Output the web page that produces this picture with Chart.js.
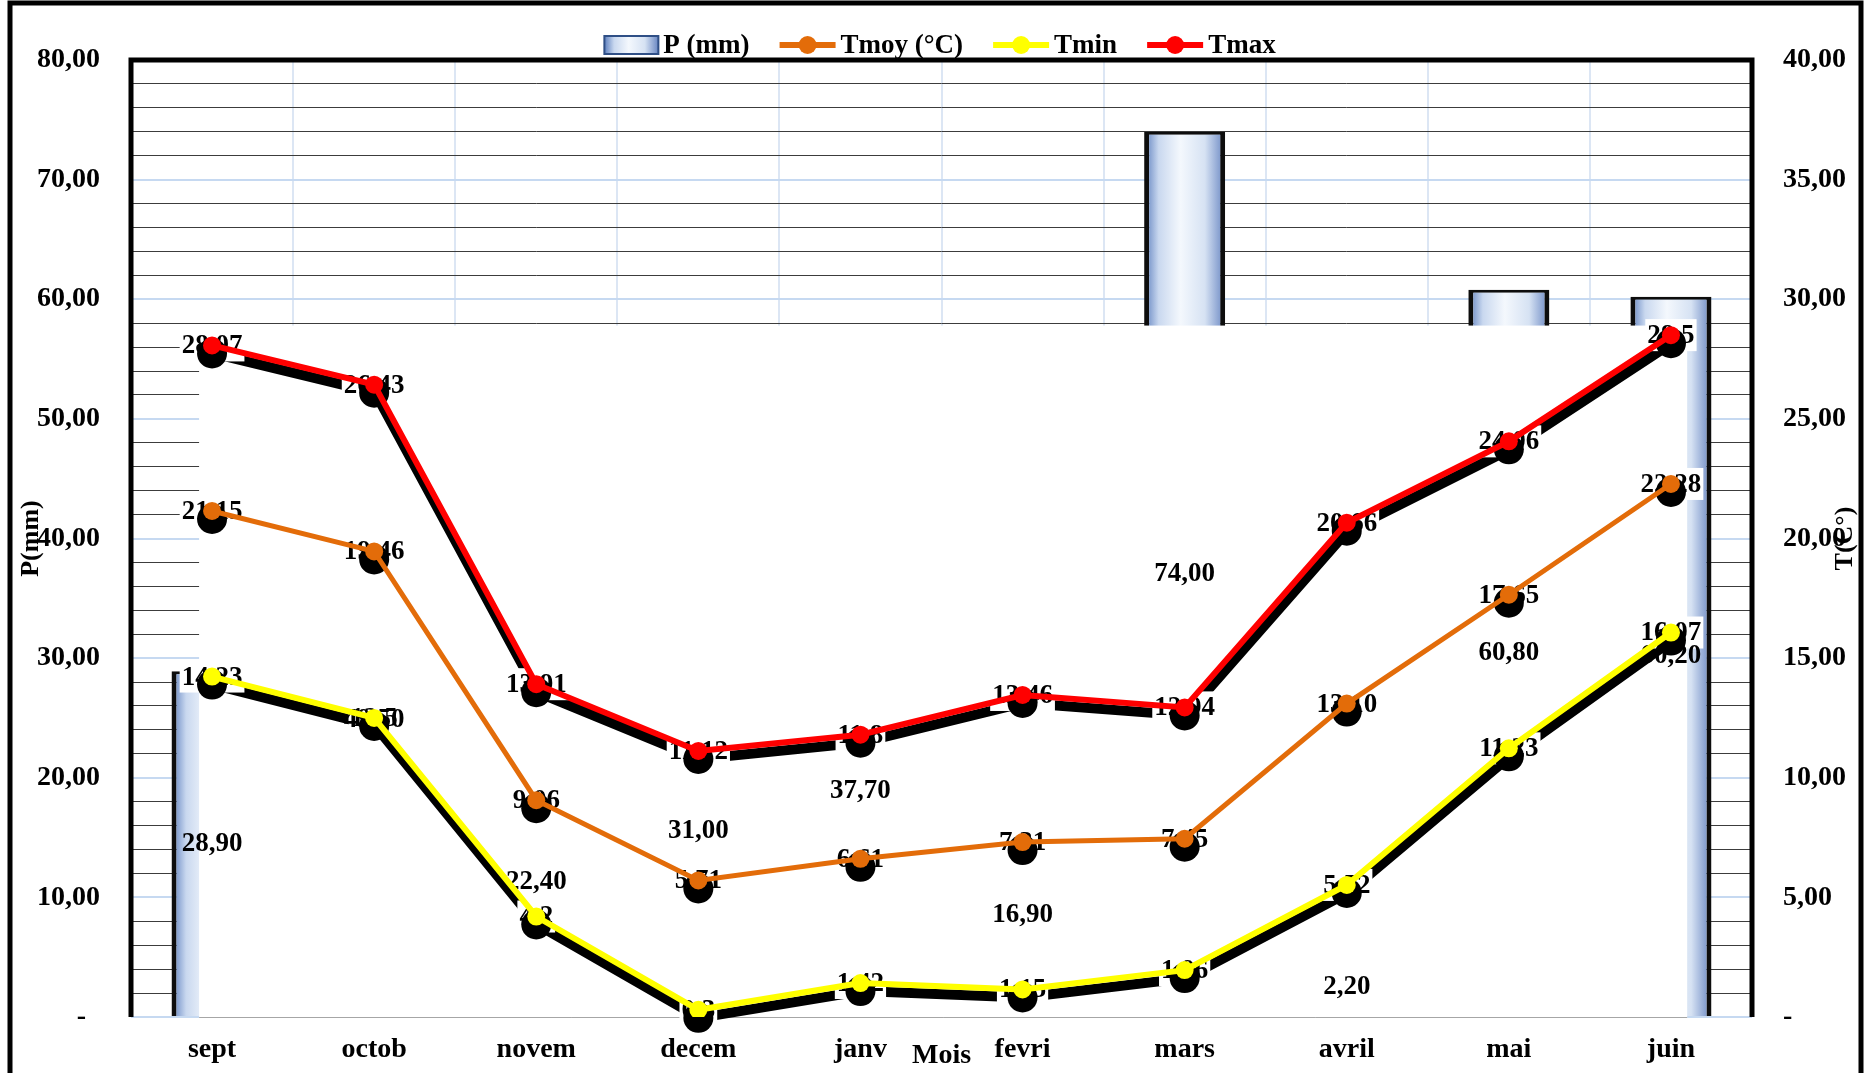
<!DOCTYPE html>
<html lang="fr">
<head>
<meta charset="utf-8">
<title>Diagramme P / T</title>
<script src="https://cdn.jsdelivr.net/npm/chart.js@4.4.1/dist/chart.umd.min.js"></script>
<style>
  html, body { margin: 0; padding: 0; background: #fff; }
  #wrap { width: 1865px; height: 1073px; position: relative; }
</style>
</head>
<body>
<div id="wrap"><canvas id="myChart"></canvas></div>
<script>
// DATA
const months = ['sept', 'octob', 'novem', 'decem', 'janv', 'fevri', 'mars', 'avril', 'mai', 'juin'];
const precip = [28.90, 49.50, 22.40, 31.00, 37.70, 16.90, 74.00, 2.20, 60.80, 60.20];
const tmoy = [21.15, 19.46, 9.06, 5.71, 6.61, 7.31, 7.45, 13.10, 17.65, 22.28];
const tmin = [14.23, 12.5, 4.2, 0.3, 1.42, 1.15, 1.96, 5.52, 11.23, 16.07];
const tmax = [28.07, 26.43, 13.91, 11.12, 11.8, 13.46, 12.94, 20.66, 24.06, 28.5];
const pTickLabels = ['-  ', '10,00', '20,00', '30,00', '40,00', '50,00', '60,00', '70,00', '80,00'];
const tTickLabels = ['-', '5,00', '10,00', '15,00', '20,00', '25,00', '30,00', '35,00', '40,00'];

// STYLE
const serif = "'Liberation Serif', 'Times New Roman', serif";
const bold = size => ({ family: serif, size: size, weight: 'bold' });
const coverTop = 57.8; // the white panel hides the plot below this P value

// bar fill: bevelled light blue
function barGradient(c, x0, x1) {
  const g = c.createLinearGradient(x0, 0, x1, 0);
  g.addColorStop(0, '#5d7fbe');
  g.addColorStop(0.18, '#c9d8ef');
  g.addColorStop(0.45, '#f4f8fd');
  g.addColorStop(0.75, '#d6e2f3');
  g.addColorStop(1, '#6886c2');
  return g;
}

function drawLineSymbol(c, x, y, w, color) {
  c.strokeStyle = color;
  c.lineWidth = 6;
  c.beginPath();
  c.moveTo(x, y);
  c.lineTo(x + w, y);
  c.stroke();
  c.fillStyle = color;
  c.beginPath();
  c.arc(x + w / 2, y, 9, 0, Math.PI * 2);
  c.fill();
}

const lineSeries = [
  { label: 'Tmax', data: tmax, color: '#ff0000', shadow: true, fmt: v => String(v) },
  { label: 'Tmin', data: tmin, color: '#ffff00', shadow: true, fmt: v => String(v) },
  { label: 'Tmoy (°C)', data: tmoy, color: '#e36c09', shadow: false, fmt: v => v.toFixed(2) }
];

const extras = {
  id: 'extras',
  afterDatasetDraw(chart, args) {
    if (args.meta.type !== 'bar') return;
    const c = chart.ctx;
    const area = chart.chartArea;
    const x = chart.scales.x;
    const y = chart.scales.y;
    const step = x.width / months.length;
    // white panel over the lower part of the plot
    const left = x.getPixelForValue(0) - step * 0.08;
    const right = x.getPixelForValue(months.length - 1) + step * 0.1;
    const top = y.getPixelForValue(coverTop);
    c.save();
    c.fillStyle = '#fff';
    c.fillRect(left, top, right - left, area.bottom + 4 - top);
    c.strokeStyle = '#a6a6a6';
    c.lineWidth = 1;
    c.beginPath();
    c.moveTo(left, area.bottom + 0.5);
    c.lineTo(right, area.bottom + 0.5);
    c.stroke();

    // shadows of the Tmax / Tmin lines
    lineSeries.forEach((s, di) => {
      if (!s.shadow) return;
      const pts = chart.getDatasetMeta(di).data;
      c.strokeStyle = '#000';
      c.lineWidth = 10;
      c.beginPath();
      pts.forEach((p, i) => {
        if (i === 0) c.moveTo(p.x + 1, p.y + 8);
        else c.lineTo(p.x + 1, p.y + 8);
      });
      c.stroke();
    });

    // temperature labels on white boxes
    c.font = 'bold 27px ' + serif;
    c.textAlign = 'center';
    c.textBaseline = 'middle';
    lineSeries.forEach((s, di) => {
      const pts = chart.getDatasetMeta(di).data;
      pts.forEach((p, i) => {
        const txt = s.fmt(s.data[i]);
        const w = c.measureText(txt).width;
        c.fillStyle = '#fff';
        c.fillRect(p.x - w / 2 - 2, p.y - 16, w + 4, 32);
        c.fillStyle = '#000';
        c.fillText(txt, p.x, p.y + 1);
      });
    });

    // bar value labels
    c.fillStyle = '#000';
    args.meta.data.forEach((bar, i) => {
      const cy = Math.min((bar.y + bar.base) / 2, area.bottom - 30);
      c.fillText(precip[i].toFixed(2).replace('.', ','), bar.x, cy);
    });
    c.restore();
  },
  beforeDatasetDraw(chart, args) {
    if (args.meta.type !== 'line') return;
    const c = chart.ctx;
    c.save();
    c.fillStyle = '#000';
    args.meta.data.forEach(p => {
      c.beginPath();
      c.arc(p.x, p.y + 8, 15, 0, Math.PI * 2);
      c.fill();
    });
    c.restore();
  },
  afterDraw(chart) {
    const c = chart.ctx;
    const area = chart.chartArea;
    c.save();
    // plot border
    c.strokeStyle = '#000';
    c.lineWidth = 5;
    c.beginPath();
    c.moveTo(area.left, area.bottom);
    c.lineTo(area.left, area.top);
    c.lineTo(area.right, area.top);
    c.lineTo(area.right, area.bottom);
    c.stroke();
    // outer frame
    c.beginPath();
    c.moveTo(10, chart.height + 5);
    c.lineTo(10, 3);
    c.lineTo(1861, 3);
    c.lineTo(1861, chart.height + 5);
    c.stroke();

    // legend
    c.font = 'bold 27px ' + serif;
    c.textBaseline = 'middle';
    c.textAlign = 'left';
    const items = [
      { text: 'P (mm)', w: 54, kind: 'bar' },
      { text: 'Tmoy (°C)', w: 56, color: '#e36c09' },
      { text: 'Tmin', w: 56, color: '#ffff00' },
      { text: 'Tmax', w: 56, color: '#ff0000' }
    ];
    const gapIn = 5, gapOut = 30;
    let total = 0;
    items.forEach((it, i) => {
      it.tw = c.measureText(it.text).width;
      total += it.w + gapIn + it.tw + (i ? gapOut : 0);
    });
    let lx = 940 - total / 2;
    const ly = 45;
    items.forEach(it => {
      if (it.kind === 'bar') {
        c.fillStyle = barGradient(c, lx, lx + it.w);
        c.fillRect(lx, ly - 9, it.w, 18);
        c.strokeStyle = '#2f4f86';
        c.lineWidth = 2;
        c.strokeRect(lx, ly - 9, it.w, 18);
      } else {
        drawLineSymbol(c, lx, ly, it.w, it.color);
      }
      c.fillStyle = '#000';
      c.fillText(it.text, lx + it.w + gapIn, ly + 1);
      lx += it.w + gapIn + it.tw + gapOut;
    });

    // right axis title
    c.translate(1845, (area.top + area.bottom) / 2);
    c.rotate(-Math.PI / 2);
    c.textAlign = 'center';
    c.font = 'bold 26px ' + serif;
    c.fillText('T(C°)', 0, 0);
    c.restore();
  }
};

const ctx = document.getElementById('myChart').getContext('2d');
const myChart = new Chart(ctx, {
  type: 'bar',
  data: {
    labels: months,
    datasets: lineSeries.map((s, i) => ({
      type: 'line',
      label: s.label,
      data: s.data,
      yAxisID: 'y1',
      order: i + 1,
      borderColor: s.color,
      backgroundColor: s.color,
      pointBackgroundColor: s.color,
      borderWidth: s.shadow ? 6 : 5,
      pointRadius: 9,
      pointHoverRadius: 9,
      pointBorderWidth: 0,
      tension: 0
    })).concat([{
      type: 'bar',
      label: 'P (mm)',
      data: precip,
      yAxisID: 'y',
      order: 10,
      categoryPercentage: 1,
      barPercentage: 0.5,
      backgroundColor: c => {
        const xs = c.chart.scales.x;
        if (!xs || c.dataIndex === undefined) return '#c6d9f1';
        const cx = xs.getPixelForValue(c.dataIndex);
        const hw = xs.width / months.length * 0.25;
        if (!isFinite(cx) || !isFinite(hw) || hw <= 0) return '#c6d9f1';
        return barGradient(c.chart.ctx, cx - hw, cx + hw);
      },
      borderColor: '#0d0d0d',
      borderWidth: { top: 3, left: 5, right: 5, bottom: 0 },
      borderSkipped: false
    }])
  },
  options: {
    responsive: true,
    maintainAspectRatio: false,
    animation: false,
    devicePixelRatio: 1,
    layout: { padding: { top: 60, left: 0, right: 0, bottom: 0 } },
    plugins: {
      legend: { display: false },
      tooltip: { enabled: false }
    },
    scales: {
      x: {
        grid: { color: '#dce6f4', lineWidth: 2, drawTicks: false, offset: true },
        border: { display: false },
        ticks: { color: '#000', font: bold(28), padding: 16 },
        title: { display: true, text: 'Mois', color: '#000', font: bold(28), padding: 0 },
        afterFit: s => { s.height = 56; }
      },
      y: {
        position: 'left',
        min: 0,
        max: 80,
        grid: {
          drawTicks: false,
          color: c => c.tick.value % 10 === 0 ? '#c6d9f1' : '#3c3c3c',
          lineWidth: c => c.tick.value % 10 === 0 ? 2 : 1
        },
        border: { display: false },
        ticks: {
          stepSize: 2,
          autoSkip: false,
          padding: 31,
          color: '#000',
          font: bold(28),
          callback: v => v % 10 === 0 ? pTickLabels[v / 10] : ''
        },
        title: { display: true, text: 'P(mm)', color: '#000', font: bold(26), padding: { top: 16, bottom: 0 } },
        afterFit: s => { s.width = 131; }
      },
      y1: {
        position: 'right',
        min: 0,
        max: 40,
        grid: { drawOnChartArea: false, drawTicks: false },
        border: { display: false },
        ticks: {
          stepSize: 5,
          padding: 31,
          color: '#000',
          font: bold(28),
          callback: v => tTickLabels[v / 5]
        },
        afterFit: s => { s.width = 113; }
      }
    }
  },
  plugins: [extras]
});
</script>
</body>
</html>
